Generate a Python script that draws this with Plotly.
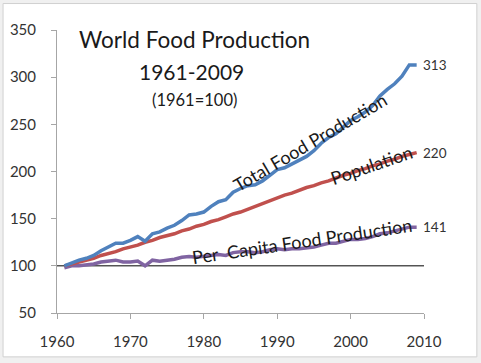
import plotly.graph_objects as go

years = list(range(1961, 2010))
total_food = [100, 103, 106, 108, 111, 116, 120, 124, 124, 127,
              131, 126, 134, 136, 140, 143, 148, 154, 155, 157,
              163, 168, 170, 178, 182, 185, 186, 190, 196, 202,
              204, 208, 211, 216, 222, 230, 236, 240, 247, 254,
              258, 263, 270, 280, 287, 293, 301, 313, 313]
population = [100, 102, 104, 106, 108, 111, 113, 115, 118, 120,
              122, 125, 127, 130, 132, 134, 137, 139, 142, 144,
              147, 149, 152, 155, 157, 160, 163, 166, 169, 172,
              175, 177, 180, 183, 185, 188, 190, 193, 196, 198,
              201, 203, 206, 208, 211, 213, 216, 218, 220]
per_capita = [98, 100, 100, 101, 102, 104, 105, 106, 104, 104,
              105, 100, 106, 105, 106, 107, 109, 110, 109, 110,
              111, 112, 111, 114, 115, 115, 114, 115, 117, 118,
              117, 118, 118, 119, 120, 122, 124, 124, 126, 128,
              128, 129, 131, 134, 135, 137, 139, 141, 141]
baseline_x = [1960, 2010]
baseline_y = [100, 100]
x_ticks = [1960, 1970, 1980, 1990, 2000, 2010]
y_ticks = [50, 100, 150, 200, 250, 300, 350]

FONT = "Lato, 'Open Sans', sans-serif"
TXT = "#1a1a1a"

fig = go.Figure()
fig.add_trace(go.Scatter(x=baseline_x, y=baseline_y, mode="lines",
                         line=dict(color="#000000", width=1), hoverinfo="skip"))
fig.add_trace(go.Scatter(x=years, y=per_capita, mode="lines",
                         line=dict(color="#8064A2", width=3.5)))
fig.add_trace(go.Scatter(x=years, y=population, mode="lines",
                         line=dict(color="#C0504D", width=3.5)))
fig.add_trace(go.Scatter(x=years, y=total_food, mode="lines",
                         line=dict(color="#4F81BD", width=3.5)))

annotations = []
for x, y, t, sz in [(0.376, 0.968, "World Food Production", 22.5),
                    (0.367, 0.855, "1961-2009", 21),
                    (0.376, 0.752, "(1961=100)", 16.5)]:
    annotations.append(dict(x=x, y=y, xref="paper", yref="paper", text=t, showarrow=False,
                            xanchor="center", yanchor="middle",
                            font=dict(family=FONT, size=sz, color=TXT)))

labels = [
    (1994.5, 231, "Total Food Production", -30.5, 18),
    (2002.8, 207, "Population", -19, 18),
    (1993.4, 126, "Per  Capita Food Production", -8.5, 18),
]
for x, y, t, ang, sz in labels:
    annotations.append(dict(x=x, y=y, xref="x", yref="y", text=t, textangle=ang, showarrow=False,
                            font=dict(family=FONT, size=sz, color=TXT)))

for v in (total_food[-1], population[-1], per_capita[-1]):
    annotations.append(dict(x=years[-1], y=v, xref="x", yref="y", text=str(v), showarrow=False,
                            xanchor="left", xshift=4, font=dict(family=FONT, size=13.5, color="#333333")))

fig.update_layout(
    width=481, height=363,
    margin=dict(l=57, r=57, t=29.5, b=50, autoexpand=False),
    paper_bgcolor="#f0f0f0", plot_bgcolor="rgba(0,0,0,0)",
    showlegend=False,
    annotations=annotations,
    shapes=[dict(type="rect", xref="paper", yref="paper", x0=-0.147, x1=1.144, y0=-0.155, y1=1.0935,
                 fillcolor="#ffffff", line=dict(color="#d0d0d0", width=1), layer="below")],
    xaxis=dict(range=[1960, 2010], tickvals=x_ticks, showgrid=False, zeroline=False,
               showline=True, linecolor="#a6a6a6", linewidth=1, ticks="outside", ticklen=5,
               tickcolor="#a6a6a6", ticklabelstandoff=10, automargin=False,
               tickfont=dict(family=FONT, size=15, color="#333333")),
    yaxis=dict(range=[50, 350], tickvals=y_ticks, showgrid=False, zeroline=False,
               showline=True, linecolor="#a6a6a6", linewidth=1, ticks="outside", ticklen=5,
               tickcolor="#a6a6a6", ticklabelstandoff=12, automargin=False,
               tickfont=dict(family=FONT, size=15, color="#333333")),
)

fig.write_html("out.html", config={"displayModeBar": False},
               post_script="document.body.style.margin='0px';")
